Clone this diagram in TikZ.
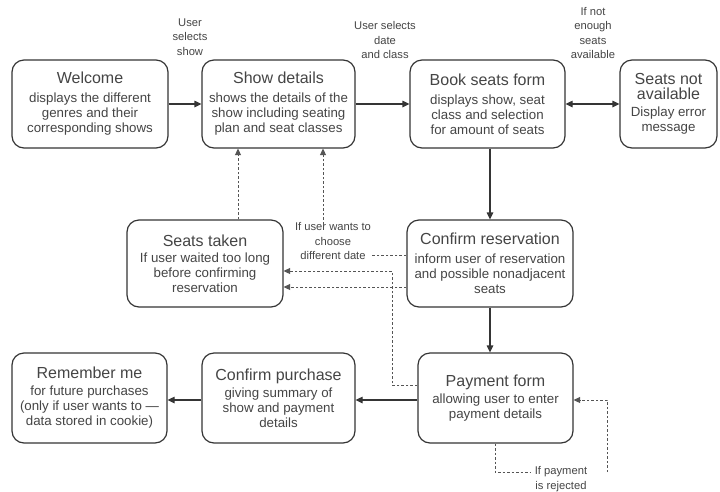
\documentclass[tikz,border=0pt]{standalone}
\usepackage{fontspec}
\setmainfont{Liberation Sans}
\usetikzlibrary{arrows.meta}
\definecolor{ink}{HTML}{353535}
\definecolor{txt}{HTML}{454545}
\definecolor{dline}{HTML}{555555}
\newcommand{\ttl}{\fontsize{16}{17}\selectfont}
\newcommand{\bdy}{\fontsize{13.3}{15}\selectfont}
\newcommand{\lbl}{\fontsize{11.2}{14.2}\selectfont}
\begin{document}
\begin{tikzpicture}[x=1pt,y=-1pt,
  box/.style={draw=ink, line width=1.2pt, rounded corners=12pt, align=center,
    text=txt, font=\bdy, inner sep=0pt},
  flow/.style={draw=ink, line width=1.2pt, -{Triangle[length=7pt,width=6.5pt]}},
  dflow/.style={draw=dline, line width=1pt, dash pattern=on 2.5pt off 2pt,
    -{Triangle[length=6.5pt,width=6pt]}},
  dline/.style={draw=dline, line width=1pt, dash pattern=on 2.5pt off 2pt},
  lab/.style={align=center, text=txt, font=\lbl, inner sep=0pt}]
\useasboundingbox (0,0) rectangle (720,491);
\fill[white] (0,0) rectangle (720,491);

% top row
\node[box, minimum width=156pt, minimum height=88pt] (welcome) at (90,104)
  {{\ttl Welcome}\\[4pt]displays the different\\genres and their\\corresponding shows};
\node[box, minimum width=153pt, minimum height=88pt] (show) at (278.5,104)
  {{\ttl Show details}\\[4pt]shows the details of the\\show including seating\\plan and seat classes};
\node[box, minimum width=155pt, minimum height=88pt] (book) at (487.5,104)
  {{\ttl Book seats form}\\[4pt]displays show, seat\\class and selection\\for amount of seats};
\node[box, minimum width=97pt, minimum height=88pt] (notavail) at (668.5,104)
  {{\ttl Seats not}\\{\ttl available}\\[2pt]Display error\\message};

% middle row
\node[box, minimum width=156pt, minimum height=87pt] (taken) at (205,263.5)
  {{\ttl Seats taken}\\[1pt]If user waited too long\\before confirming\\reservation};
\node[box, minimum width=166pt, minimum height=87pt] (confirm) at (490,263.5)
  {{\ttl Confirm reservation}\\[4pt]inform user of reservation\\and possible nonadjacent\\seats};

% bottom row
\node[box, minimum width=155pt, minimum height=90pt] (remember) at (89.5,398)
  {{\ttl Remember me}\\[2pt]for future purchases\\(only if user wants to ---\\data stored in cookie)};
\node[box, minimum width=153pt, minimum height=90pt] (purchase) at (278.5,398)
  {{\ttl Confirm purchase}\\[2pt]giving summary of\\show and payment\\details};
\node[box, minimum width=155pt, minimum height=90pt] (payment) at (495.5,398)
  {{\ttl Payment form}\\[2pt]allowing user to enter\\payment details};

% labels
\node[lab] (lshow) at (190,37) {User\\selects\\show};
\node[lab] (ldate) at (385,40) {User selects\\date\\and class};
\node[lab] (lseats) at (593,33) {If not\\enough\\seats\\available};
\node[lab] (ldiff) at (333,241) {If user wants to\\choose\\different date};
\node[lab] (lrej) at (561,479) {If payment\\is rejected};

% solid connectors
\draw[flow] (welcome.east) -- (show.west);
\draw[flow] (show.east) -- (book.west);
\draw[flow, {Triangle[length=7pt,width=6.5pt]}-{Triangle[length=7pt,width=6.5pt]}] (book.east) -- (notavail.west);
\draw[flow] (confirm.north |- book.south) -- (confirm.north);
\draw[flow] (confirm.south) -- (confirm.south |- payment.north);
\draw[flow] ([yshift=-2pt]payment.west) -- ([yshift=-2pt]purchase.east);
\draw[flow] ([yshift=-2pt]purchase.west) -- ([yshift=-2pt]remember.east);

% dashed connectors
\draw[dflow] ([xshift=33pt]taken.north) -- ([xshift=33pt]taken.north |- show.south);
\draw[dline] ([yshift=8.5pt]confirm.west) -- ([yshift=8.5pt]confirm.west -| ldiff.east);
\draw[dflow] ([xshift=-10pt,yshift=-2pt]ldiff.north) -- ([xshift=-10pt]ldiff.north |- show.south);
\draw[dflow] ([yshift=-23.5pt]confirm.west) -- ([yshift=-23.5pt]confirm.west -| taken.east);
\coordinate (jn) at (392,271);
\draw[dflow] ([yshift=13pt]payment.west) -| (jn) -- (jn -| taken.east);
\coordinate (r1) at (530,472);
\coordinate (r2) at (607,472);
\draw[dline] ([xshift=-0.5pt]payment.south) |- (r1);
\draw[dflow] (r2) |- ([yshift=-2pt]payment.east);
\end{tikzpicture}
\end{document}
